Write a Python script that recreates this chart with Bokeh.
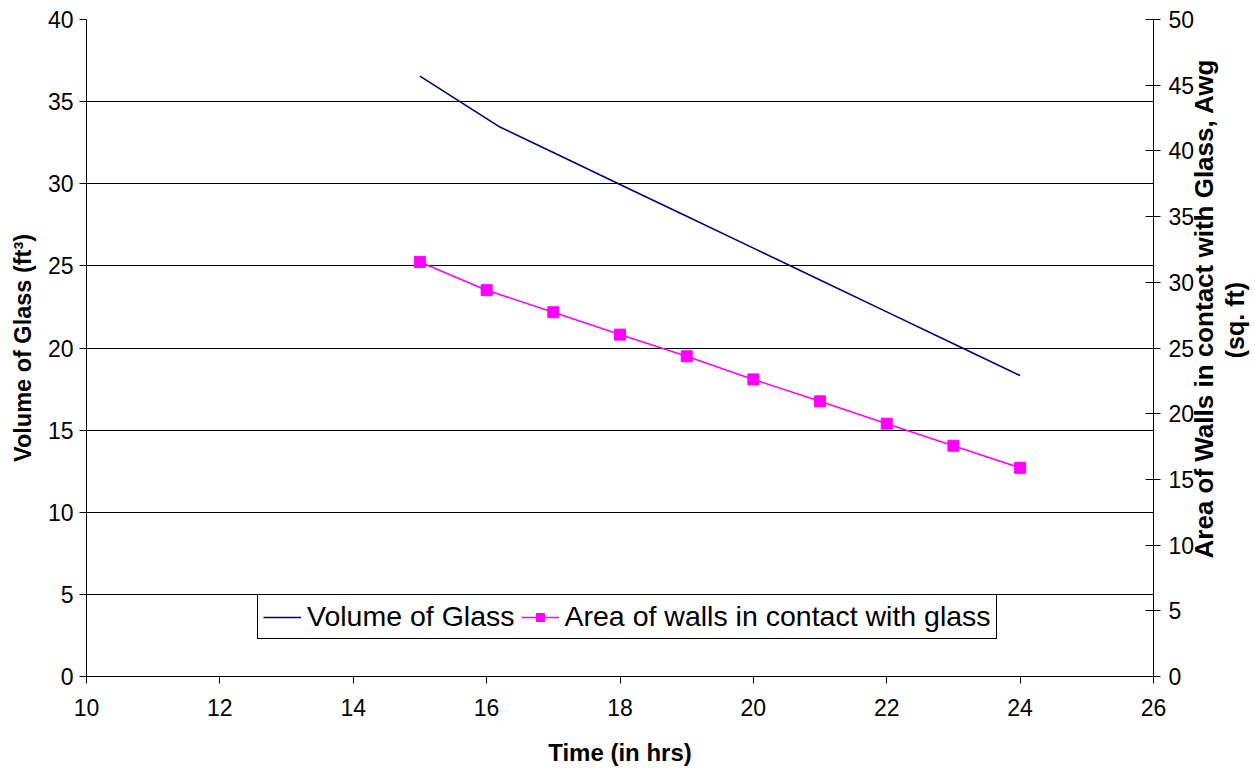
from bokeh.plotting import figure
from bokeh.models import (Range1d, LinearAxis, Legend, LegendItem, Label,
                          FixedTicker)
from bokeh.embed import file_html
from bokeh.resources import INLINE

# Hourly wall area (right axis) and glass volume (left axis)
hours = [15, 16, 17, 18, 19, 20, 21, 22, 23, 24]
wall_area = [31.55, 29.4, 27.72, 26.02, 24.37, 22.61, 20.94, 19.24, 17.56, 15.88]

volume_hours = [15, 16.2, 17, 18, 19, 20, 21, 22, 23, 24]
glass_volume = [36.55, 33.45, 31.9, 29.96, 28.02, 26.08, 24.14, 22.2, 20.26, 18.32]

x_ticks = [10, 12, 14, 16, 18, 20, 22, 24, 26]
left_ticks = [0, 5, 10, 15, 20, 25, 30, 35, 40]
right_ticks = [0, 5, 10, 15, 20, 25, 30, 35, 40, 45, 50]

FONT = "Liberation Sans"

p = figure(width=1255, height=768,
           x_range=Range1d(10, 26), y_range=Range1d(0, 40),
           output_backend="svg", toolbar_location=None,
           min_border_left=86, min_border_right=97,
           min_border_top=19, min_border_bottom=92)
p.extra_y_ranges = {"area": Range1d(0, 50)}
p.outline_line_color = None
p.background_fill_color = "white"
p.border_fill_color = "white"

# horizontal grid on the left-axis ticks only
p.xgrid.visible = False
p.ygrid.ticker = FixedTicker(ticks=left_ticks)
p.ygrid.grid_line_color = "black"
p.ygrid.grid_line_width = 1

vol_line = p.line(volume_hours, glass_volume, line_color="#000080", line_width=1.6)
area_line = p.line(hours, wall_area, line_color="#FF00FF", line_width=1.6,
                   y_range_name="area")
area_pts = p.scatter(hours, wall_area, marker="square", size=11,
                     fill_color="#FF00FF", line_color="#FF00FF",
                     y_range_name="area")

def style_axis(ax, ticks):
    ax.ticker = FixedTicker(ticks=ticks)
    ax.axis_line_color = "black"
    ax.axis_line_width = 1
    ax.major_tick_line_color = "black"
    ax.minor_tick_line_color = None
    ax.major_tick_in = 0
    ax.major_tick_out = 7
    ax.major_label_text_font = FONT
    ax.major_label_text_font_size = "23px"
    ax.major_label_text_color = "black"
    ax.axis_label_text_font = FONT
    ax.axis_label_text_font_style = "bold"
    ax.axis_label_text_font_size = "24px"
    ax.axis_label_text_color = "black"

style_axis(p.xaxis[0], x_ticks)
p.xaxis[0].axis_label = "Time (in hrs)"
p.xaxis[0].axis_label_standoff = 20
p.xaxis[0].major_label_standoff = 15

style_axis(p.yaxis[0], left_ticks)
p.yaxis[0].axis_label = "Volume of Glass (ft³)"
p.yaxis[0].axis_label_text_font_size = "23.5px"
p.yaxis[0].axis_label_standoff = 9
p.yaxis[0].major_label_standoff = 6

right_axis = LinearAxis(y_range_name="area")
style_axis(right_axis, right_ticks)
right_axis.major_tick_in = 8
right_axis.major_label_standoff = 8
p.add_layout(right_axis, "right")

# right-hand title: two upward-reading lines set beside the right axis
for txt, xs, ys, fs in [("Area of Walls in contact with Glass, Awg", 26.75, 22.4, "26px"),
                        ("(sq. ft)", 27.22, 21.7, "25px")]:
    p.add_layout(Label(x=xs, y=ys, text=txt, angle=90, angle_units="deg",
                       text_align="center", text_baseline="middle",
                       text_font=FONT, text_font_style="bold",
                       text_font_size=fs, text_line_height=0.9,
                       text_color="black"), "right")

legend = Legend(items=[
    LegendItem(label="Volume of Glass", renderers=[vol_line]),
    LegendItem(label="Area of walls in contact with glass",
               renderers=[area_line, area_pts]),
], orientation="horizontal", location=(171, 37), margin=0,
    label_text_font=FONT, label_text_font_size="28.5px",
    label_text_color="black", border_line_color="black",
    border_line_alpha=1, border_line_width=1, background_fill_alpha=1,
    glyph_width=38, glyph_height=20, label_standoff=6,
    spacing=6, padding=5)
p.add_layout(legend, "center")

open("out.html", "w").write(file_html(p, INLINE))
